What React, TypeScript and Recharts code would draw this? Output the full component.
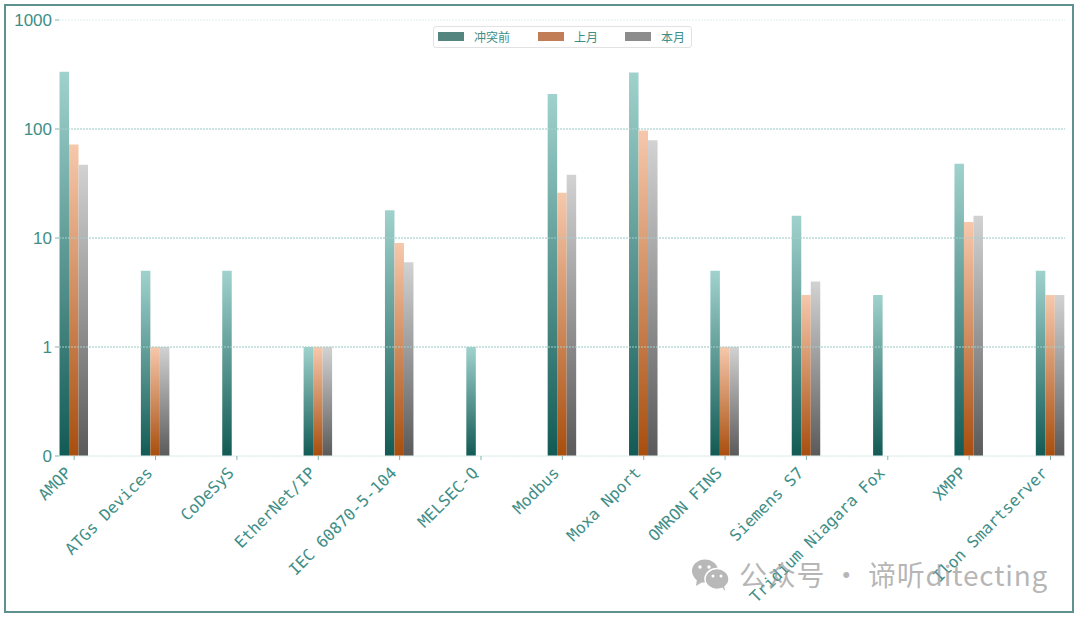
import React from "react";
import { BarChart, Bar, XAxis, YAxis, CartesianGrid, ReferenceLine, Legend } from "recharts";

const categories = ["AMQP","ATGs Devices","CoDeSyS","EtherNet/IP","IEC 60870-5-104","MELSEC-Q","Modbus","Moxa Nport","OMRON FINS","Siemens S7","Tridium Niagara Fox","XMPP","Ilon Smartserver"];
const before = [335,5,5,1,18,1,210,330,5,16,3,48,5];
const lastMonth = [72,1,null,1,9,null,26,97,1,3,null,14,3];
const thisMonth = [47,1,null,1,6,null,38,79,1,4,null,16,3];
const seriesNames = ["冲突前","上月","本月"];
const legendColors = ["#55857f","#c17d55","#8c8c8c"];
const yTicks = [0.1,1,10,100,1000];
const yLines = [1,10,100];

const data = categories.map((name,i)=>({name,before:before[i],lastMonth:lastMonth[i],thisMonth:thisMonth[i]}));
const TEXT = "#3e8e87";

function LegendBox(){
  return (
    <div style={{width:259,height:22,boxSizing:"border-box",border:"1.5px solid #e2e2e2",borderRadius:3,background:"#fff",position:"relative",fontFamily:"'Noto Sans CJK SC'",fontSize:12,color:TEXT}}>
      {seriesNames.map((n,i)=>{
        const left=[4,104,191][i];
        return (
          <div key={n} style={{position:"absolute",left,top:0,height:19,display:"flex",alignItems:"center",whiteSpace:"nowrap"}}>
            <span style={{display:"inline-block",width:26,height:9,background:legendColors[i],marginRight:10}}/>
            <span style={{lineHeight:"19px"}}>{n}</span>
          </div>
        );
      })}
    </div>
  );
}

function XTick(props:any){
  const {x,y,payload}=props;
  return (
    <text x={x-10} y={y+4} dy="0.71em" textAnchor="end" transform={`rotate(-45 ${x-10} ${y+4})`} fill={TEXT} fontSize={16} fontFamily="'DejaVu Sans Mono'">{payload.value}</text>
  );
}

export default function App(){
  return (
    <div style={{position:"absolute",left:0,top:0,width:1080,height:618,background:"#fff",overflow:"hidden"}}>
      <div style={{position:"absolute",left:4,top:4,width:1070,height:609,boxSizing:"border-box",border:"2px solid #5f918f"}}/>
      <BarChart width={1080} height={618} data={data} barSize={9.5} barGap={0} barCategoryGap={0} margin={{top:20,right:15,bottom:0,left:0}}>
        <defs>
          <linearGradient id="gTeal" x1="0" y1="0" x2="0" y2="1"><stop offset="0" stopColor="#a0d2cd"/><stop offset="1" stopColor="#125a55"/></linearGradient>
          <linearGradient id="gOrange" x1="0" y1="0" x2="0" y2="1"><stop offset="0" stopColor="#f6c8ac"/><stop offset="1" stopColor="#a84e0e"/></linearGradient>
          <linearGradient id="gGray" x1="0" y1="0" x2="0" y2="1"><stop offset="0" stopColor="#d2d2d2"/><stop offset="1" stopColor="#5a5a5a"/></linearGradient>
        </defs>
        <CartesianGrid vertical={false} stroke="#dff0ee" strokeDasharray="2 1"/>
        {yLines.map(v=><ReferenceLine key={v} y={v} stroke="#a5d0cc" strokeDasharray="2 1"/>)}
        <XAxis dataKey="name" scale="point" padding={{left:15.2,right:14.5}} interval={0} height={162}
          tick={<XTick/>} tickSize={4} tickLine={{stroke:"#7fb5b0"}} axisLine={{stroke:"#e3f0ee"}}/>
        <YAxis scale="log" domain={[0.1,1000]} ticks={yTicks} allowDataOverflow width={59} interval={0} tickFormatter={(v:number)=>v===0.1?"0":String(v)}
          tick={{fill:TEXT,fontSize:17,fontFamily:"'Liberation Sans'"}} tickSize={4} tickMargin={3} tickLine={{stroke:"#7fb5b0"}} axisLine={false}/>
        <Legend content={<LegendBox/>} layout="horizontal" verticalAlign="middle" align="center" wrapperStyle={{position:"absolute",left:433,top:26,width:259,height:22}}/>
        <Bar dataKey="before" name={seriesNames[0]} fill="url(#gTeal)" isAnimationActive={false}/>
        <Bar dataKey="lastMonth" name={seriesNames[1]} fill="url(#gOrange)" isAnimationActive={false}/>
        <Bar dataKey="thisMonth" name={seriesNames[2]} fill="url(#gGray)" isAnimationActive={false}/>
      </BarChart>
      <svg width={40} height={36} viewBox="0 0 40 36" style={{position:"absolute",left:691,top:558}}>
        <ellipse cx="14" cy="13" rx="13" ry="11.5" fill="#b8b8b8"/>
        <path d="M6 21 L5 28 L13 23 Z" fill="#b8b8b8"/>
        <ellipse cx="26" cy="21" rx="12" ry="10.5" fill="#b8b8b8" stroke="#fff" strokeWidth="1.5"/>
        <path d="M31 29 L34 33 L33 27 Z" fill="#b8b8b8"/>
        <circle cx="9" cy="9" r="1.7" fill="#fff"/><circle cx="18" cy="9" r="1.7" fill="#fff"/>
        <circle cx="22" cy="18" r="1.5" fill="#fff"/><circle cx="30" cy="18" r="1.5" fill="#fff"/>
      </svg>
      <div style={{position:"absolute",left:739,top:554,fontFamily:"'Noto Sans CJK SC'",fontSize:28,lineHeight:"40px",color:"rgba(150,150,150,0.7)",whiteSpace:"nowrap",letterSpacing:0.75}}>公众号 · 谛听ditecting</div>
    </div>
  );
}
